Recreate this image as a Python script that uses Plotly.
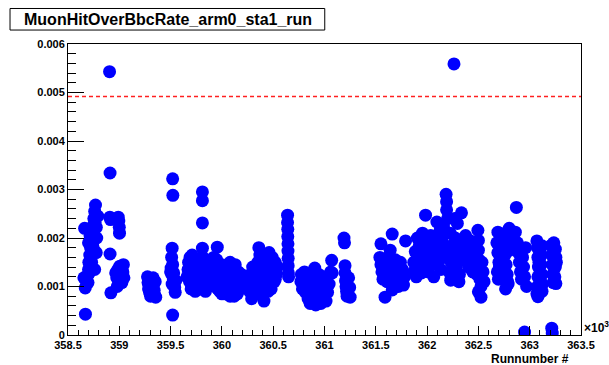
import plotly.graph_objects as go

# Muon hit / BBC rate per run, arm 0, station 1 (rates grouped by run block)
runs_a = [358655, 358662, 358668, 358670, 358675, 358690, 358695, 358700, 358703, 358708,
          358712, 358716, 358720, 358724, 358728, 358732, 358736, 358740, 358744, 358748,
          358752, 358756, 358760, 358764, 358768, 358772, 358776, 358780, 358700, 358715,
          358730, 358745, 358760, 358775, 358790]
rate_a = [0.00118, 0.00220, 0.00097, 0.00043, 0.00112, 0.00122, 0.00108, 0.00135, 0.00150, 0.00128,
          0.00165, 0.00142, 0.00180, 0.00158, 0.00195, 0.00172, 0.00210, 0.00188, 0.00225, 0.00203,
          0.00240, 0.00218, 0.00255, 0.00232, 0.00268, 0.00246, 0.00222, 0.00200, 0.00190, 0.00205,
          0.00150, 0.00180, 0.00135, 0.00170, 0.00245]

runs_b = [358905, 358910, 358908, 358915, 358910, 358918, 358990, 358995, 359000, 359002,
          358965, 358975, 358985, 358995, 359005, 359015, 359025, 359035, 359045, 358980,
          359000, 359020, 359040]
rate_b = [0.00543, 0.00334, 0.00243, 0.00238, 0.00167, 0.00087, 0.00243, 0.00235, 0.00222, 0.00210,
          0.00128, 0.00118, 0.00135, 0.00112, 0.00142, 0.00122, 0.00108, 0.00130, 0.00118, 0.00100,
          0.00125, 0.00138, 0.00145]

runs_c = [359275, 359280, 359285, 359290, 359295, 359300, 359305, 359330, 359335, 359340,
          359345, 359350, 359355]
rate_c = [0.00120, 0.00108, 0.00095, 0.00102, 0.00088, 0.00115, 0.00080, 0.00118, 0.00105, 0.00092,
          0.00082, 0.00110, 0.00078]

runs_d = [359520, 359522, 359515, 359510, 359505, 359512, 359520, 359528, 359515, 359530,
          359540, 359545, 359520, 359550, 359500]
rate_d = [0.00322, 0.00288, 0.00179, 0.00160, 0.00138, 0.00125, 0.00145, 0.00115, 0.00105, 0.00128,
          0.00098, 0.00088, 0.00041, 0.00112, 0.00130]

runs_e = [359810, 359810, 359810, 359810, 359660, 359670, 359675, 359685, 359690, 359700,
          359710, 359715, 359725, 359735, 359740, 359750, 359760, 359770, 359780, 359790,
          359800, 359815, 359825, 359835, 359845, 359855, 359865, 359710, 359700, 359840]
rate_e = [0.00295, 0.00277, 0.00231, 0.00179, 0.00120, 0.00135, 0.00150, 0.00110, 0.00160, 0.00125,
          0.00100, 0.00145, 0.00115, 0.00135, 0.00090, 0.00155, 0.00120, 0.00105, 0.00140, 0.00095,
          0.00130, 0.00160, 0.00115, 0.00140, 0.00105, 0.00125, 0.00150, 0.00165, 0.00095, 0.00090]

runs_f = [359955, 359890, 359900, 359910, 359920, 359930, 359940, 359950, 359960, 359970,
          359980, 359990, 360000, 360010, 360020, 360030, 360040, 360050, 360060, 360070,
          360080, 360090, 360100, 360110, 360120, 360130, 360140, 360150, 360160, 360170,
          360180, 360190, 359920, 359960, 360000, 360040, 360080, 360120, 360160]
rate_f = [0.00181, 0.00150, 0.00130, 0.00115, 0.00140, 0.00100, 0.00125, 0.00155, 0.00110, 0.00135,
          0.00090, 0.00120, 0.00145, 0.00105, 0.00130, 0.00085, 0.00115, 0.00140, 0.00100, 0.00125,
          0.00080, 0.00110, 0.00135, 0.00095, 0.00120, 0.00145, 0.00105, 0.00085, 0.00130, 0.00115,
          0.00095, 0.00125, 0.00160, 0.00095, 0.00085, 0.00100, 0.00150, 0.00080, 0.00100]

runs_g = [360260, 360270, 360280, 360290, 360300, 360310, 360320, 360330, 360340, 360350,
          360360, 360370, 360380, 360390, 360400, 360410, 360420, 360430, 360440, 360450,
          360460, 360470, 360480, 360490, 360500, 360510, 360520, 360530, 360540, 360280,
          360320, 360360, 360400, 360440, 360480, 360520]
rate_g = [0.00110, 0.00090, 0.00125, 0.00075, 0.00140, 0.00100, 0.00115, 0.00085, 0.00130, 0.00150,
          0.00180, 0.00165, 0.00110, 0.00095, 0.00140, 0.00070, 0.00125, 0.00155, 0.00105, 0.00090,
          0.00170, 0.00145, 0.00120, 0.00160, 0.00135, 0.00110, 0.00150, 0.00125, 0.00140, 0.00100,
          0.00130, 0.00090, 0.00115, 0.00120, 0.00095, 0.00115]

runs_h = [360640, 360640, 360642, 360642, 360644, 360644, 360646, 360646, 360648, 360650]
rate_h = [0.00247, 0.00232, 0.00218, 0.00203, 0.00188, 0.00173, 0.00158, 0.00143, 0.00128, 0.00120]

runs_i = [360770, 360775, 360785, 360790, 360800, 360805, 360815, 360820, 360830, 360840,
          360845, 360855, 360860, 360870, 360875, 360885, 360890, 360900, 360905, 360915,
          360920, 360930, 360940, 360945, 360955, 360965, 360975, 360985, 360995, 361005,
          361015, 361030, 361045, 361060, 361070]
rate_i = [0.00110, 0.00125, 0.00095, 0.00118, 0.00102, 0.00130, 0.00088, 0.00112, 0.00098, 0.00075,
          0.00120, 0.00090, 0.00065, 0.00105, 0.00082, 0.00118, 0.00070, 0.00095, 0.00138, 0.00062,
          0.00085, 0.00108, 0.00072, 0.00125, 0.00092, 0.00065, 0.00110, 0.00080, 0.00098, 0.00120,
          0.00070, 0.00088, 0.00105, 0.00130, 0.00154]

runs_j = [361075, 361190, 361195, 361200, 361200, 361205, 361210, 361215, 361220, 361235,
          361245, 361250]
rate_j = [0.00128, 0.00200, 0.00190, 0.00143, 0.00128, 0.00112, 0.00100, 0.00090, 0.00080, 0.00118,
          0.00098, 0.00078]

runs_k = [361590, 361660, 361540, 361550, 361560, 361570, 361580, 361590, 361600, 361610,
          361620, 361630, 361640, 361650, 361660, 361670, 361680, 361690, 361700, 361710,
          361720, 361730, 361740, 361750, 361760, 361770, 361780, 361790, 361660, 361550]
rate_k = [0.00078, 0.00093, 0.00160, 0.00145, 0.00130, 0.00115, 0.00150, 0.00125, 0.00140, 0.00110,
          0.00160, 0.00135, 0.00175, 0.00120, 0.00145, 0.00105, 0.00130, 0.00155, 0.00115, 0.00140,
          0.00100, 0.00125, 0.00150, 0.00110, 0.00135, 0.00103, 0.00120, 0.00194, 0.00208, 0.00188]

runs_l = [361870, 361875, 361885, 361895, 361905, 361915, 361925, 361935, 361945, 361955,
          361965, 361975, 361985, 361995, 362005, 362015, 362025, 362035, 362045, 362055,
          362065, 362075, 362085, 362095, 362105, 362115, 362125, 362135, 362145, 362160,
          362175, 362185, 362190, 362190, 362200, 362210]
rate_l = [0.00150, 0.00132, 0.00172, 0.00120, 0.00200, 0.00145, 0.00185, 0.00160, 0.00128, 0.00210,
          0.00140, 0.00175, 0.00247, 0.00155, 0.00190, 0.00130, 0.00168, 0.00205, 0.00145, 0.00180,
          0.00120, 0.00160, 0.00195, 0.00233, 0.00150, 0.00175, 0.00215, 0.00135, 0.00195, 0.00225,
          0.00160, 0.00290, 0.00275, 0.00258, 0.00240, 0.00180]

runs_m = [362262, 362215, 362225, 362235, 362245, 362255, 362265, 362275, 362285, 362295,
          362305, 362315, 362325, 362335, 362340, 362230, 362270, 362310]
rate_m = [0.00559, 0.00130, 0.00210, 0.00150, 0.00185, 0.00120, 0.00165, 0.00200, 0.00140, 0.00230,
          0.00175, 0.00125, 0.00155, 0.00252, 0.00195, 0.00113, 0.00240, 0.00110]

runs_n = [362375, 362385, 362395, 362405, 362415, 362425, 362435, 362445, 362455, 362465,
          362475, 362485, 362495, 362500, 362500, 362505, 362510, 362515, 362525, 362535,
          362545, 362555, 362525, 362500]
rate_n = [0.00205, 0.00180, 0.00160, 0.00140, 0.00195, 0.00170, 0.00150, 0.00130, 0.00185, 0.00165,
          0.00145, 0.00125, 0.00216, 0.00195, 0.00175, 0.00155, 0.00135, 0.00115, 0.00100, 0.00150,
          0.00130, 0.00110, 0.00078, 0.00089]

runs_o = [362690, 362680, 362690, 362700, 362685, 362695, 362705, 362715, 362740, 362750,
          362760, 362770, 362780, 362790, 362800, 362810, 362765, 362785, 362805, 362870,
          362860, 362880, 362890, 362900, 362910, 362920, 362930, 362940, 362950, 362960,
          362970, 362950]
rate_o = [0.00212, 0.00190, 0.00170, 0.00150, 0.00130, 0.00115, 0.00140, 0.00160, 0.00208, 0.00185,
          0.00165, 0.00145, 0.00125, 0.00105, 0.00220, 0.00195, 0.00095, 0.00110, 0.00175, 0.00263,
          0.00212, 0.00190, 0.00170, 0.00150, 0.00130, 0.00115, 0.00160, 0.00140, 0.00120, 0.00180,
          0.00100, 0.00006]

runs_p = [363070, 363075, 363080, 363085, 363080, 363075, 363070, 363080, 363090, 363120,
          363115, 363120, 363125, 363110, 363120, 363215, 363220, 363210, 363215, 363220,
          363225, 363230, 363235, 363250, 363255, 363250, 363245, 363255, 363260, 363230]
rate_p = [0.00194, 0.00180, 0.00160, 0.00140, 0.00120, 0.00100, 0.00085, 0.00079, 0.00150, 0.00184,
          0.00165, 0.00125, 0.00105, 0.00145, 0.00090, 0.00014, 0.00004, 0.00185, 0.00165, 0.00145,
          0.00125, 0.00108, 0.00190, 0.00177, 0.00160, 0.00140, 0.00120, 0.00106, 0.00150, 0.00178]

threshold = 0.00492

x_tick_runs = [358500, 359000, 359500, 360000, 360500, 361000, 361500, 362000, 362500, 363000, 363500]
x_tick_text = ["358.5", "359", "359.5", "360", "360.5", "361", "361.5", "362", "362.5", "363", "363.5"]
y_tick_vals = [0, 0.001, 0.002, 0.003, 0.004, 0.005, 0.006]
y_tick_text = ["0", "0.001", "0.002", "0.003", "0.004", "0.005", "0.006"]

runs = (runs_a + runs_b + runs_c + runs_d + runs_e + runs_f + runs_g + runs_h
        + runs_i + runs_j + runs_k + runs_l + runs_m + runs_n + runs_o + runs_p)
rates = (rate_a + rate_b + rate_c + rate_d + rate_e + rate_f + rate_g + rate_h
         + rate_i + rate_j + rate_k + rate_l + rate_m + rate_n + rate_o + rate_p)

FONT = "Liberation Sans, Arial, Helvetica, sans-serif"

fig = go.Figure()
fig.add_trace(go.Scatter(
    x=runs, y=rates, mode="markers",
    marker=dict(size=13, color="#0000ff", line=dict(width=0)),
    showlegend=False, hoverinfo="x+y",
))

# threshold line across the whole run range
fig.add_shape(type="line", xref="x", yref="y",
              x0=358500, x1=363500, y0=threshold, y1=threshold,
              line=dict(color="#ff2020", width=1.5, dash="4px,3px"))

# histogram title box
fig.add_shape(type="rect", xref="paper", yref="paper",
              x0=-0.113, x1=0.5005, y0=1.048, y1=1.122,
              line=dict(color="black", width=1), fillcolor="white")
fig.add_annotation(xref="paper", yref="paper", x=0.194, y=1.085,
                   text="MuonHitOverBbcRate_arm0_sta1_run", showarrow=False,
                   xanchor="center", yanchor="middle",
                   font=dict(family=FONT, size=16, color="black", weight="bold"))

# axis title and exponent
fig.add_annotation(xref="paper", yref="paper", x=0.980, y=-0.084,
                   text="Runnumber #", showarrow=False, xanchor="right", yanchor="middle",
                   font=dict(family=FONT, size=12, color="black", weight="bold"))
fig.add_annotation(xref="paper", yref="paper", x=1.002, y=0.028,
                   text="×10<sup>3</sup>", showarrow=False, xanchor="left", yanchor="middle",
                   font=dict(family=FONT, size=12, color="black", weight="bold"))

fig.update_layout(
    width=609, height=365,
    margin=dict(l=68, r=28, t=44, b=30),
    paper_bgcolor="white", plot_bgcolor="white",
    font=dict(family=FONT, size=11, color="black", weight="bold"),
    xaxis=dict(
        range=[358500, 363500], tickmode="array", tickvals=x_tick_runs, ticktext=x_tick_text,
        ticks="inside", ticklen=9, tickwidth=1, tickcolor="black",
        minor=dict(dtick=100, tick0=358500, ticks="inside", ticklen=5, tickcolor="black"),
        showline=True, linecolor="black", linewidth=1, mirror=True,
        showgrid=False, zeroline=False,
        tickfont=dict(family=FONT, size=11, color="black", weight="bold"),
    ),
    yaxis=dict(
        range=[0, 0.006], tickmode="array", tickvals=y_tick_vals, ticktext=y_tick_text,
        ticks="inside", ticklen=16, tickwidth=1, tickcolor="black",
        minor=dict(dtick=0.0002, tick0=0, ticks="inside", ticklen=8, tickcolor="black"),
        showline=True, linecolor="black", linewidth=1, mirror=True,
        showgrid=False, zeroline=False,
        tickfont=dict(family=FONT, size=11, color="black", weight="bold"),
    ),
)

fig.write_html("out.html")
